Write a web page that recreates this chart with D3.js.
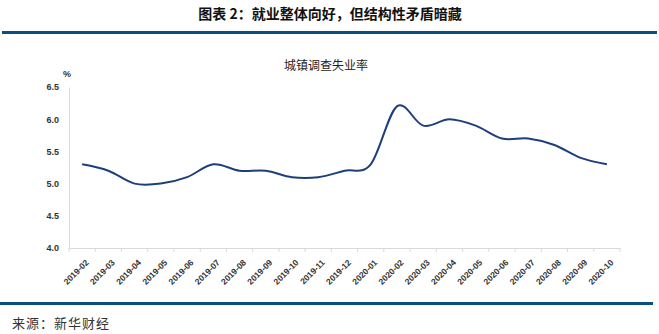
<!DOCTYPE html>
<html>
<head>
<meta charset="utf-8">
<script src="https://cdn.jsdelivr.net/npm/d3@7"></script>
<style>
  html, body { margin: 0; padding: 0; background: #fff; }
  svg { display: block; }
</style>
</head>
<body>
<svg id="chart" width="659" height="334"></svg>
<script>
// Monthly urban surveyed unemployment rate (%)
const months = ["2019-02","2019-03","2019-04","2019-05","2019-06","2019-07","2019-08","2019-09","2019-10","2019-11","2019-12",
                "2020-01","2020-02","2020-03","2020-04","2020-05","2020-06","2020-07","2020-08","2020-09","2020-10"];
const rates = [5.3, 5.2, 5.0, 5.0, 5.1, 5.3, 5.2, 5.2, 5.1, 5.1, 5.2,
               5.3, 6.2, 5.9, 6.0, 5.9, 5.7, 5.7, 5.6, 5.4, 5.3];
const yTicks = [4.0, 4.5, 5.0, 5.5, 6.0, 6.5];

const pageTitle = "图表 2：就业整体向好，但结构性矛盾暗藏";
const chartTitle = "城镇调查失业率";
const unitLabel = "%";
const sourceNote = "来源：新华财经";

const svg = d3.select("#chart");
const font = "'Noto Sans CJK SC', 'Microsoft YaHei', sans-serif";
const latin = "'Liberation Sans', Arial, sans-serif";
const accent = "#0b4f7c";

// Header
svg.append("text")
  .attr("x", 330).attr("y", 19)
  .attr("text-anchor", "middle")
  .attr("font-family", font).attr("font-size", 14).attr("font-weight", 700)
  .attr("fill", "#111")
  .text(pageTitle);
svg.append("rect").attr("x", 2).attr("y", 31).attr("width", 655).attr("height", 3).attr("fill", accent);

// Footer
svg.append("rect").attr("x", 0).attr("y", 302).attr("width", 653).attr("height", 3).attr("fill", accent);
svg.append("text")
  .attr("x", 12).attr("y", 328)
  .attr("font-family", font).attr("font-size", 13)
  .attr("letter-spacing", 1)
  .attr("fill", "#333")
  .text(sourceNote);

// Plot area
const plotLeft = 69, plotRight = 620, plotTop = 87, plotBottom = 248;

const x = d3.scaleBand().domain(months).range([plotLeft, plotRight]);
const y = d3.scaleLinear().domain([4.0, 6.5]).range([plotBottom, plotTop]);

svg.append("text")
  .attr("x", 326).attr("y", 70)
  .attr("text-anchor", "middle")
  .attr("font-family", font).attr("font-size", 12)
  .attr("fill", "#222")
  .text(chartTitle);

svg.append("text")
  .attr("x", 67).attr("y", 77)
  .attr("text-anchor", "middle")
  .attr("font-family", latin).attr("font-size", 9).attr("font-weight", 700)
  .attr("fill", "#333")
  .text(unitLabel);

// Y axis
const yAxis = svg.append("g")
  .attr("transform", `translate(${plotLeft},0)`)
  .call(d3.axisLeft(y).tickValues(yTicks).tickFormat(d3.format(".1f")).tickSize(0).tickPadding(10));
yAxis.select(".domain").attr("stroke", "#d9d9d9");
yAxis.selectAll("text")
  .attr("font-family", latin).attr("font-size", 9).attr("font-weight", 700)
  .attr("fill", "#333");

// X axis; tick marks sit on category boundaries
const xAxis = svg.append("g")
  .attr("transform", `translate(0,${plotBottom})`)
  .call(d3.axisBottom(x).tickSize(0).tickSizeOuter(0));
xAxis.select(".domain").attr("stroke", "#d9d9d9");
xAxis.selectAll(".tick line").remove();
xAxis.selectAll(".tick text")
  .attr("font-family", latin).attr("font-size", 8.5).attr("font-weight", 700)
  .attr("fill", "#333")
  .attr("text-anchor", "end")
  .attr("x", 0).attr("y", 0).attr("dy", "0.35em")
  .attr("transform", "translate(5,13) rotate(-45)");

const boundaries = months.map(m => x(m)).concat([x(months[months.length - 1]) + x.bandwidth()]);
svg.append("g")
  .selectAll("line")
  .data(boundaries)
  .join("line")
  .attr("x1", d => d).attr("x2", d => d)
  .attr("y1", plotBottom).attr("y2", plotBottom + 4)
  .attr("stroke", "#d9d9d9");

// Smoothed series line
const line = d3.line()
  .x((d, i) => x(months[i]) + x.bandwidth() / 2)
  .y(d => y(d))
  .curve(d3.curveCardinal.tension(0));

svg.append("path")
  .datum(rates)
  .attr("d", line)
  .attr("fill", "none")
  .attr("stroke", "#1c3f7c")
  .attr("stroke-width", 2);
</script>
</body>
</html>
